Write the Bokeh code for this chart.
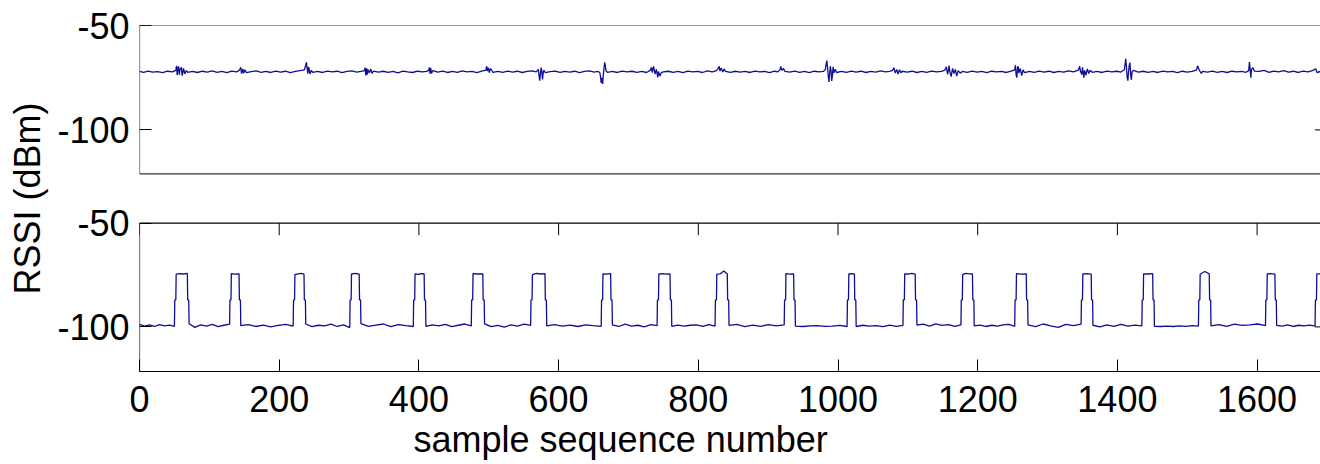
import numpy as np
from bokeh.plotting import figure
from bokeh.models import Range1d, FixedTicker, LinearAxis, BoxAnnotation, Title
from bokeh.embed import file_html
from bokeh.resources import INLINE

# ---------------- data ----------------
# upper panel: RSSI samples (sample number, dBm)
top_points = [
    (0, -72.0), (6, -72.4), (12, -71.8), (19, -72.3), (26, -72.1), (33, -72.6), (40, -71.9), (47, -72.2),
    (52, -71.5), (53, -69.3), (54, -73.8), (55, -70.2), (56, -69.6), (57, -73.5), (58, -71.0), (60, -70.0),
    (61, -74.0), (62, -72.8), (63, -70.5), (65, -73.2), (67, -71.6), (69, -72.4),
    (76, -72.0), (83, -72.5), (90, -71.9), (97, -72.3), (104, -71.7), (111, -72.4), (118, -72.0), (125, -72.6),
    (132, -71.8), (139, -72.2),
    (143, -71.4), (145, -70.0), (146, -73.0), (148, -70.8), (149, -72.9), (151, -71.2), (153, -72.6),
    (160, -72.1), (167, -71.7), (174, -72.4), (181, -72.0), (188, -72.5), (195, -71.8), (202, -72.3),
    (209, -71.9), (216, -72.6), (223, -72.0), (230, -71.6),
    (236, -71.2), (238, -69.0), (239, -67.6), (240, -70.5), (241, -73.0), (242, -69.8), (243, -71.0),
    (244, -73.2), (246, -71.5), (248, -72.4),
    (255, -72.0), (262, -72.5), (269, -71.8), (276, -72.2), (283, -71.9), (290, -72.6), (297, -72.0),
    (304, -71.7), (311, -72.3), (317, -72.0),
    (322, -71.6), (323, -70.2), (324, -73.9), (325, -70.5), (326, -73.5), (327, -71.0), (329, -72.8),
    (331, -70.8), (333, -73.0), (335, -71.8),
    (342, -72.3), (349, -71.9), (356, -72.4), (363, -72.0), (370, -72.7), (377, -71.8), (384, -72.2),
    (391, -72.5), (398, -71.9), (405, -72.2), (411, -72.0),
    (414, -71.5), (415, -70.0), (416, -73.1), (417, -70.4), (418, -72.9), (420, -71.6),
    (427, -72.3), (434, -71.8), (441, -72.5), (448, -72.0), (455, -72.4), (462, -71.7), (469, -72.2),
    (476, -72.0), (483, -72.6), (490, -71.9),
    (496, -71.4), (497, -69.5), (498, -71.8), (499, -70.2), (501, -72.6), (502, -70.6), (504, -71.3), (506, -72.4),
    (513, -72.0), (520, -72.4), (527, -71.8), (534, -72.3), (541, -71.9), (548, -72.5), (555, -72.0),
    (562, -71.7), (568, -72.2),
    (571, -71.0), (572, -74.0), (573, -76.4), (574, -73.0), (575, -70.2), (576, -72.0), (577, -75.8),
    (578, -72.5), (579, -71.4), (581, -72.6),
    (588, -72.1), (595, -71.8), (602, -72.4), (609, -72.0), (616, -72.3), (623, -71.9), (630, -72.6),
    (637, -72.0), (644, -71.7), (651, -72.3), (656, -72.0),
    (659, -72.5), (660, -74.5), (661, -77.5), (662, -75.0), (663, -78.0), (664, -73.5), (665, -70.5),
    (666, -67.6), (667, -69.5), (668, -71.8), (670, -72.4),
    (677, -72.0), (684, -72.5), (691, -71.8), (698, -72.2), (705, -71.9), (712, -72.4), (719, -72.0), (726, -72.5),
    (731, -71.5), (733, -70.0), (734, -72.5), (736, -69.6), (738, -73.2), (740, -71.0), (742, -74.8),
    (743, -72.0), (745, -74.2), (747, -72.6), (750, -72.2),
    (757, -71.9), (764, -72.4), (771, -72.0), (778, -72.6), (785, -71.8), (792, -72.2), (799, -72.0),
    (806, -72.5), (813, -71.7), (820, -72.2),
    (826, -71.6), (828, -70.8), (830, -69.6), (831, -71.8), (833, -70.4), (835, -72.3), (837, -70.9), (839, -72.0),
    (846, -72.4), (853, -71.9), (860, -72.3), (867, -72.0), (874, -72.5), (881, -71.8), (888, -72.2),
    (895, -72.0), (902, -72.6), (909, -71.9), (914, -72.2),
    (917, -71.2), (918, -69.6), (919, -70.8), (920, -71.5), (922, -70.5), (924, -72.0),
    (931, -72.3), (938, -71.8), (945, -72.4), (952, -72.0), (959, -72.6), (966, -71.9), (973, -72.2), (979, -72.0),
    (982, -71.0), (983, -68.5), (984, -66.8), (985, -70.0), (986, -73.8), (987, -77.0), (988, -73.0),
    (989, -69.5), (990, -71.5), (991, -76.5), (992, -74.0), (993, -69.8), (994, -72.8), (996, -70.9), (998, -72.5),
    (1005, -72.0), (1012, -72.4), (1019, -71.8), (1026, -72.3), (1033, -71.9), (1040, -72.5), (1047, -72.0),
    (1054, -72.3), (1061, -71.7), (1068, -72.2), (1074, -72.0),
    (1078, -71.5), (1080, -70.2), (1082, -72.8), (1084, -71.0), (1086, -73.2), (1088, -71.2), (1090, -72.6), (1092, -71.9),
    (1099, -72.3), (1106, -71.9), (1113, -72.5), (1120, -72.0), (1127, -72.4), (1134, -71.8), (1141, -72.2), (1148, -72.0),
    (1153, -71.4), (1155, -69.8), (1157, -73.4), (1159, -69.2), (1160, -72.0), (1162, -74.5), (1164, -70.5),
    (1166, -73.0), (1168, -71.0), (1170, -74.2), (1172, -71.6), (1175, -72.8), (1178, -72.0),
    (1185, -72.4), (1192, -71.8), (1199, -72.3), (1206, -72.0), (1213, -72.6), (1220, -71.9), (1227, -72.2),
    (1234, -72.0), (1241, -72.5), (1248, -71.8),
    (1253, -71.2), (1254, -69.0), (1255, -73.5), (1256, -75.0), (1257, -70.2), (1258, -69.5), (1259, -72.8),
    (1261, -70.6), (1263, -74.0), (1265, -71.2), (1267, -72.6),
    (1274, -72.0), (1281, -72.4), (1288, -71.8), (1295, -72.3), (1302, -71.9), (1309, -72.5), (1316, -72.0),
    (1323, -72.3), (1330, -71.7), (1337, -72.2),
    (1344, -71.4), (1346, -69.5), (1347, -71.8), (1349, -73.5), (1350, -70.0), (1352, -75.0), (1353, -71.5),
    (1355, -73.8), (1357, -70.8), (1359, -73.0), (1361, -71.4), (1364, -72.4),
    (1371, -72.0), (1378, -72.5), (1385, -71.8), (1392, -72.2), (1399, -71.9), (1405, -72.3),
    (1410, -71.2), (1411, -68.5), (1412, -66.0), (1413, -70.0), (1414, -75.0), (1415, -76.4), (1416, -72.0),
    (1417, -69.0), (1418, -67.8), (1419, -73.5), (1420, -76.0), (1421, -72.2), (1423, -71.5),
    (1430, -72.3), (1437, -71.9), (1444, -72.4), (1451, -72.0), (1458, -72.5), (1465, -71.8), (1472, -72.2),
    (1479, -72.0), (1486, -72.6), (1493, -71.9), (1500, -72.3), (1507, -72.0),
    (1513, -71.4), (1515, -69.2), (1516, -70.5), (1518, -71.8), (1520, -72.9), (1522, -72.0),
    (1529, -72.3), (1536, -71.8), (1543, -72.4), (1550, -72.0), (1557, -72.5), (1564, -71.9), (1571, -72.2),
    (1578, -72.0), (1584, -72.4),
    (1588, -71.6), (1589, -67.5), (1590, -70.5), (1591, -75.0), (1592, -71.0), (1594, -70.2), (1596, -71.8),
    (1603, -72.0), (1610, -71.5), (1617, -72.4), (1624, -71.8), (1631, -72.2), (1638, -71.6), (1645, -72.3),
    (1652, -71.9), (1659, -72.5), (1666, -71.8), (1673, -72.2), (1680, -71.5), (1684, -70.8), (1686, -72.6),
    (1690, -72.0), (1700, -72.2),
]
top_x = [pt[0] for pt in top_points]
top_y = [pt[1] for pt in top_points]

# lower panel: on/off pulses (sample numbers where the level jumps up / falls back)
pulse_start = [50, 129, 220, 301, 392, 475, 560, 661, 741, 824, 923, 1013, 1093, 1176, 1253, 1348, 1435, 1516, 1612, 1683]
pulse_end = [71, 145, 238, 317, 410, 494, 583, 677, 762, 844, 939, 1026, 1113, 1195, 1272, 1365, 1453, 1534, 1628]
step_level = -87.0  # intermediate sample on every edge
pulse_top = [
    [-74.6, -74.3, -74.5, -74.2], [-74.3, -74.6, -74.4], [-74.8, -74.4, -74.2, -74.6], [-74.5, -74.2, -74.6],
    [-74.4, -74.7, -74.3, -74.5], [-74.3, -74.5, -74.4], [-74.8, -74.2, -74.5, -74.3], [-74.4, -74.6, -74.3],
    [-74.5, -74.3, -74.6, -74.4], [-74.6, -74.4, -73.0, -74.5], [-74.3, -74.6, -74.4], [-74.5, -74.3, -74.6],
    [-74.4, -74.5, -74.2, -74.6], [-74.7, -74.2, -74.4, -74.5], [-74.3, -74.6, -74.4], [-74.5, -74.3, -74.6],
    [-74.4, -74.5, -74.3], [-74.6, -73.3, -74.4], [-74.5, -74.3, -74.6], [-74.4, -74.6],
]
gap_low = [
    [-98.8, -99.6, -99.0, -99.8, -98.9, -99.5, -99.1, -99.7],
    [-98.5, -100.2, -99.0, -99.6, -98.8, -99.9, -99.2, -98.7],
    [-99.4, -98.9, -99.8, -99.1, -100.0, -99.3, -98.8, -99.6],
    [-98.6, -99.9, -99.2, -99.5, -98.7, -99.8, -99.0, -100.3],
    [-98.4, -99.7, -99.1, -98.6, -99.9, -98.9, -99.4, -99.8],
    [-99.8, -99.0, -99.5, -98.8, -99.9, -99.2, -98.6, -99.5],
    [-98.5, -99.9, -99.3, -100.1, -99.0, -99.6, -98.7, -99.3],
    [-99.5, -98.9, -99.6, -99.1, -99.8, -99.0, -99.4, -99.7],
    [-99.0, -99.8, -98.7, -99.6, -99.2, -100.0, -98.9, -99.4],
    [-99.7, -99.1, -99.6, -99.2, -99.0, -99.8, -98.9, -99.6],
    [-99.3, -98.8, -99.9, -99.1, -99.7, -98.9, -99.5, -99.0],
    [-99.6, -99.8, -99.5, -99.4, -99.7, -99.6, -99.3, -99.8],
    [-99.8, -99.2, -99.6, -99.4, -99.9, -99.1, -99.7, -99.3],
    [-99.1, -98.7, -99.6, -98.5, -99.3, -98.9, -99.7, -99.0],
    [-99.5, -99.1, -99.8, -99.2, -99.6, -99.0, -98.8, -99.7],
    [-99.0, -99.9, -98.6, -99.5, -100.2, -98.8, -99.4, -98.7],
    [-99.2, -100.0, -99.0, -99.7, -98.8, -99.6, -99.1, -99.5],
    [-99.7, -99.8, -99.6, -99.8, -99.5, -99.7, -99.4, -99.6],
    [-99.5, -98.9, -99.8, -98.7, -99.3, -99.0, -98.6, -99.4],
    [-99.3, -99.6, -99.0, -99.8, -99.2, -99.5, -99.1, -99.6],
]

x_ticks = [0, 200, 400, 600, 800, 1000, 1200, 1400, 1600]
y_ticks = [-100, -50]
x_lim = (0, 1700)
top_ylim = (-121.0, -50.0)
bot_ylim = (-121.5, -50.0)
x_title = "sample sequence number"
y_title = "RSSI (dBm)"

# ---------------- build lower series from the readings ----------------
bot_x, bot_y = [], []
for i, s in enumerate(pulse_start):
    a = 0 if i == 0 else pulse_end[i - 1]
    lows = gap_low[i]
    n = len(lows)
    for k, v in enumerate(lows):
        bot_x.append(a + (s - a) * k / (n - 1))
        bot_y.append(v)
    last = i >= len(pulse_end)
    e = x_lim[1] if last else pulse_end[i]
    bot_x += [s + 0.5, s + 2]
    bot_y += [step_level, step_level]
    tops = pulse_top[i]
    t0, t1 = s + 2.5, (e if last else e - 2.5)
    m = len(tops)
    for k, v in enumerate(tops):
        bot_x.append(t0 + (t1 - t0) * k / (m - 1))
        bot_y.append(v)
    if not last:
        bot_x += [e - 2, e - 0.5]
        bot_y += [step_level, step_level]

# ---------------- layout ----------------
W, H = 1320, 464
B_LEFT, B_TOP, B_BOTTOM = 139, 25, 93
frame_h = H - B_TOP - B_BOTTOM          # 346 px holds both panels
panel_h = 148.3                         # each panel's height in px
px_per_x = 0.6985
x_view_end = (W - B_LEFT) / px_per_x

main_lo = bot_ylim[0]
main_hi = bot_ylim[0] + (bot_ylim[1] - bot_ylim[0]) * frame_h / panel_h
top_lo = top_ylim[1] - (top_ylim[1] - top_ylim[0]) * frame_h / panel_h
top_hi = top_ylim[1]

def top_to_main(v):
    return main_lo + (v - top_lo) / (top_hi - top_lo) * (main_hi - main_lo)

FONT = "Liberation Sans"
FS = "36px"
LINE = "#0e0e96"

p = figure(width=W, height=H, output_backend="svg", toolbar_location=None,
           x_range=Range1d(x_lim[0], x_view_end), y_range=Range1d(main_lo, main_hi),
           x_axis_type=None, y_axis_type=None,
           min_border_left=B_LEFT, min_border_right=0, min_border_top=B_TOP, min_border_bottom=B_BOTTOM)
p.extra_y_ranges = {"top": Range1d(top_lo, top_hi)}
p.outline_line_color = None
p.background_fill_color = "white"
p.border_fill_color = "white"

# tick positions on the shared left axis
tick_pos, overrides = [], {}
for v in y_ticks:
    mv = round(v, 3)
    tick_pos.append(mv); overrides[mv] = str(v)
for v in y_ticks:
    mv = round(top_to_main(v) - 0.0005, 3)
    tick_pos.append(mv); overrides[mv] = str(v)

yaxis = LinearAxis(ticker=FixedTicker(ticks=tick_pos, minor_ticks=[]),
                   major_label_overrides=overrides,
                   major_tick_in=12, major_tick_out=0, minor_tick_in=0, minor_tick_out=0,
                   axis_line_color=None, major_tick_line_color="black",
                   major_label_standoff=10,
                   major_label_text_font=FONT, major_label_text_font_size=FS,
                   major_label_text_color="black",
                   axis_label=y_title, axis_label_standoff=6,
                   axis_label_text_font=FONT, axis_label_text_font_size=FS,
                   axis_label_text_font_style="normal", axis_label_text_color="black")
p.add_layout(yaxis, "left")

xaxis = LinearAxis(ticker=FixedTicker(ticks=x_ticks, minor_ticks=[]),
                   major_tick_in=12, major_tick_out=0, minor_tick_in=0, minor_tick_out=0,
                   axis_line_color="black", major_tick_line_color="black",
                   major_label_standoff=14,
                   major_label_text_font=FONT, major_label_text_font_size=FS,
                   major_label_text_color="black")
p.add_layout(xaxis, "below")

p.add_layout(Title(text=x_title, align="left", offset=274, standoff=5,
                   text_font=FONT, text_font_size=FS, text_font_style="normal",
                   text_color="black"), "below")

# panel boxes
p.add_layout(BoxAnnotation(left=x_lim[0], right=x_lim[1], bottom=top_ylim[0], top=top_ylim[1],
                           y_range_name="top", fill_alpha=0, line_color="#333333", line_alpha=1.0,
                           line_width=1.2))
p.add_layout(BoxAnnotation(left=x_lim[0], right=x_lim[1], bottom=bot_ylim[0], top=bot_ylim[1],
                           fill_alpha=0, line_color="black", line_alpha=1.0, line_width=1.2))
# x ticks on the lower panel's upper edge (pointing inside)
p.ray(x=x_ticks, y=[bot_ylim[1]] * len(x_ticks), length=12, length_units="screen",
      angle=-np.pi / 2, line_color="black", line_width=1)
# y ticks on the (cropped) right edge of both panels
p.ray(x=[x_lim[1]], y=[-100], length=12, length_units="screen", angle=np.pi,
      line_color="black", line_width=1, y_range_name="top")
p.ray(x=[x_lim[1]], y=[-100], length=12, length_units="screen", angle=np.pi,
      line_color="black", line_width=1)

# data
p.line(top_x, top_y, y_range_name="top", line_color=LINE, line_width=1.3)
p.line(bot_x, bot_y, line_color=LINE, line_width=1.3)

open("out.html", "w").write(file_html(p, INLINE))
